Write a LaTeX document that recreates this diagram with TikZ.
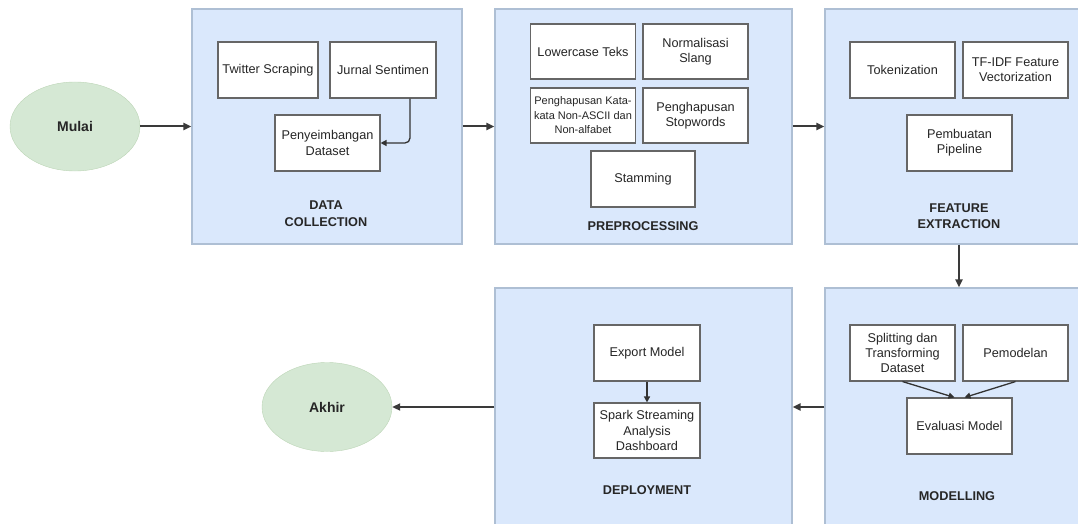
\documentclass[tikz,border=0pt]{standalone}
\usepackage{fontspec}
\setmainfont{Liberation Sans}
\usepackage{tikz}
\usetikzlibrary{arrows.meta,shapes.geometric}

\definecolor{birumuda}{HTML}{DAE8FC}
\definecolor{garisbiru}{HTML}{AEBFD4}
\definecolor{hijaumuda}{HTML}{D5E8D4}
\definecolor{garishijau}{HTML}{BCD5B6}
\definecolor{abugelap}{HTML}{3A3A3A}

\begin{document}
\begin{tikzpicture}[x=1pt,y=-1pt,
   panel tahap/.style={draw=garisbiru,fill=birumuda,line width=1.1pt,inner sep=0pt,minimum height=235pt},
   kotak proses/.style={draw=black!60,fill=white,line width=1.1pt,align=center,inner sep=1pt,
      minimum width=105pt,minimum height=56pt,font=\fontsize{12.7}{15.2}\selectfont,text=black!85},
   judul tahap/.style={align=center,font=\fontsize{12.7}{16.5}\selectfont\bfseries,text=black!85},
   terminal/.style={ellipse,draw=garishijau,fill=hijaumuda,inner sep=0pt,minimum width=130pt,
      minimum height=89pt,font=\fontsize{14}{16}\selectfont\bfseries,text=black!85},
   panah/.style={-{Triangle[length=8pt,width=7pt]},draw=abugelap,line width=2pt},
   panah kecil/.style={-{Triangle[length=6pt,width=6pt]},draw=black!80,line width=1.3pt}]

  \clip (0,0) rectangle (1078,524);

  % tahap-tahap
  \node[panel tahap,minimum width=270pt](dc) at (327,126.5) {};
  \node[panel tahap,minimum width=297pt](pre) at (643.5,126.5) {};
  \node[panel tahap,minimum width=268pt](fe) at (959,126.5) {};
  \node[panel tahap,minimum width=297pt,minimum height=238pt](dep) at (643.5,407) {};
  \node[panel tahap,minimum width=268pt,minimum height=238pt](mod) at (959,407) {};

  \node[terminal](mulai) at (75,126.5) {Mulai};
  \node[terminal](akhir) at (327,407) {Akhir};

  % data collection
  \node[kotak proses,minimum width=100pt](tw) at (268,70) {Twitter Scraping};
  \node[kotak proses,minimum width=106pt](js) at (383,70) {Jurnal Sentimen};
  \node[kotak proses](pd) at (327.5,143) {Penyeimbangan\\Dataset};
  \node[judul tahap](jdc) at (326,213.5) {DATA\\COLLECTION};

  % preprocessing
  \node[kotak proses,minimum height=55pt](lt) at (583,51.5) {Lowercase Teks};
  \node[kotak proses,minimum height=55pt](ns) at (695.5,51.5) {Normalisasi\\Slang};
  \node[kotak proses,minimum height=55pt,font=\fontsize{11}{14.5}\selectfont](pk) at (583,115.5)
     {Penghapusan Kata-\\kata Non-ASCII dan\\Non-alfabet};
  \node[kotak proses,minimum height=55pt](ps) at (695.5,115.5) {Penghapusan\\Stopwords};
  \node[kotak proses,minimum width=104pt](st) at (643,179) {Stamming};
  \node[judul tahap](jpre) at (643,226) {PREPROCESSING};

  % feature extraction
  \node[kotak proses](tok) at (902.5,70) {Tokenization};
  \node[kotak proses](tf) at (1015.5,70) {TF-IDF Feature\\Vectorization};
  \node[kotak proses](pp) at (959.5,143) {Pembuatan\\Pipeline};
  \node[judul tahap](jfe) at (959,216) {FEATURE\\EXTRACTION};

  % modelling
  \node[kotak proses](sd) at (902.5,353) {Splitting dan\\Transforming\\Dataset};
  \node[kotak proses](pm) at (1015.5,353) {Pemodelan};
  \node[kotak proses](ev) at (959.5,426) {Evaluasi Model};
  \node[judul tahap](jmod) at (957,496) {MODELLING};

  % deployment
  \node[kotak proses,minimum width=106pt](em) at (647,353) {Export Model};
  \node[kotak proses,minimum width=106pt,minimum height=55pt](ss) at (647,430.5)
     {Spark Streaming\\Analysis\\Dashboard};
  \node[judul tahap](jdep) at (647,490) {DEPLOYMENT};

  \foreach \from/\to in {mulai/dc,dc/pre,pre/fe,fe/mod,mod/dep,dep/akhir}
    \draw[panah] (\from) -- (\to);

  \draw[panah kecil,rounded corners=5pt] ([xshift=27pt]js.south) |- (pd.east);
  \draw[panah kecil] (em) -- (ss);
  \draw[panah kecil] (sd.south) -- ([xshift=-5pt]ev.north);
  \draw[panah kecil] (pm.south) -- ([xshift=5pt]ev.north);
\end{tikzpicture}
\end{document}
